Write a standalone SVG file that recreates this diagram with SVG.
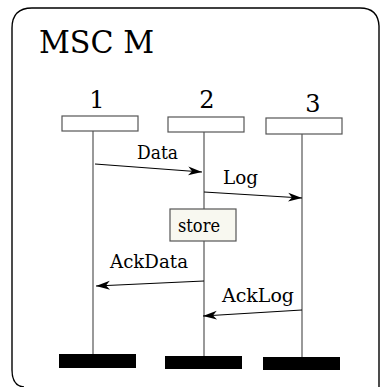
<svg xmlns="http://www.w3.org/2000/svg" width="380" height="387" viewBox="0 0 380 387">
<defs>
<marker id="ah" markerWidth="16" markerHeight="10" refX="14" refY="5" orient="auto" markerUnits="userSpaceOnUse">
<path d="M0,0.5 L14,5 L0,9.5 L4,5 Z" fill="#000"/>
</marker>
</defs>
<style>
text{fill:#000}
.hdr{fill:#fff;stroke:#555;stroke-width:1.2}
.life{stroke:#555;stroke-width:1.2}
.end{fill:#000}
.msg{stroke:#000;stroke-width:1.2;fill:none;marker-end:url(#ah)}
</style>
<rect width="380" height="387" fill="#fff"/>
<path d="M24,387 Q12,386 12,370 L12,28 Q12,8 32,8 L360,8 Q378,8 379,26 L379,392" fill="none" stroke="#000" stroke-width="1.4"/>
<text font-family="DejaVu Serif, serif" x="39" y="53" font-size="32" textLength="115" lengthAdjust="spacingAndGlyphs">MSC M</text>
<g id="i1">
<text font-family="DejaVu Serif, serif" x="97" y="108" font-size="24" text-anchor="middle">1</text>
<rect class="hdr" x="62" y="116" width="76" height="15"/>
<line class="life" x1="93" y1="131" x2="93" y2="354"/>
<rect class="end" x="59" y="354" width="77" height="14"/>
</g>
<g id="i2">
<text font-family="DejaVu Serif, serif" x="207" y="108" font-size="24" text-anchor="middle">2</text>
<rect class="hdr" x="168" y="117" width="76" height="15"/>
<line class="life" x1="204" y1="132" x2="204" y2="356"/>
<rect class="end" x="165" y="356" width="77" height="13"/>
</g>
<g id="i3">
<text font-family="DejaVu Serif, serif" x="313" y="112" font-size="24" text-anchor="middle">3</text>
<rect class="hdr" x="266" y="118" width="76" height="16"/>
<line class="life" x1="302" y1="134" x2="302" y2="357"/>
<rect class="end" x="263" y="357" width="77" height="13"/>
</g>
<g id="store">
<rect x="170" y="209" width="66" height="32" fill="#f8f8f0" stroke="#555" stroke-width="1.2"/>
<text font-family="DejaVu Serif, serif" x="178" y="232" font-size="19" textLength="42" lengthAdjust="spacingAndGlyphs">store</text>
</g>
<g id="connectors">
<line class="msg" x1="95" y1="164" x2="202" y2="172"/>
<text font-family="DejaVu Serif, serif" x="137" y="159" font-size="19" textLength="41" lengthAdjust="spacingAndGlyphs">Data</text>
<line class="msg" x1="204" y1="192" x2="302" y2="198"/>
<text font-family="DejaVu Serif, serif" x="223" y="184" font-size="19" textLength="35" lengthAdjust="spacingAndGlyphs">Log</text>
<line class="msg" x1="204" y1="281" x2="96" y2="286"/>
<text font-family="DejaVu Serif, serif" x="110" y="268" font-size="19" textLength="78" lengthAdjust="spacingAndGlyphs">AckData</text>
<line class="msg" x1="302" y1="310" x2="203" y2="316"/>
<text font-family="DejaVu Serif, serif" x="222" y="302" font-size="19" textLength="72" lengthAdjust="spacingAndGlyphs">AckLog</text>
</g>
</svg>
